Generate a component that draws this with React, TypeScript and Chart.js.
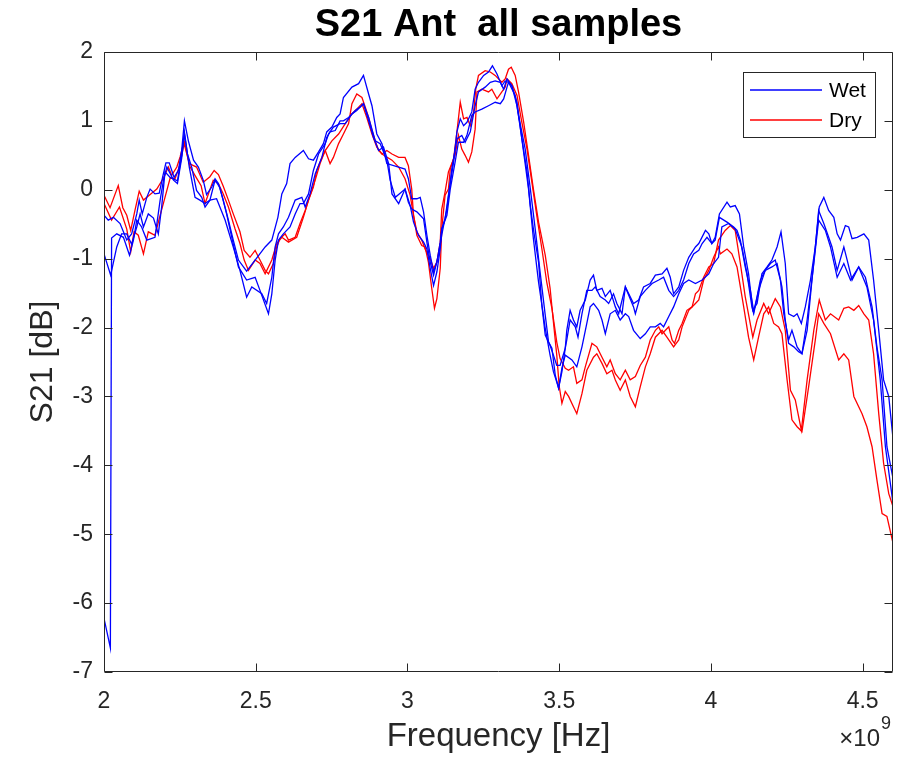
import React, { useEffect, useRef } from "react";
import { Chart, registerables } from "chart.js";

Chart.register(...registerables);

const FONT = '"Liberation Sans", Arial, Helvetica, sans-serif';
const AXIS_COLOR = "#262626";
const WET_COLOR = "#0000ff";
const DRY_COLOR = "#ff0000";

const titleText = "S21 Ant  all samples";
const xTitle = "Frequency [Hz]";
const yTitle = "S21 [dB]";
const xExponentBase = "\u00d710";
const xExponent = "9";
const legendLabels = ["Wet", "Dry"];
const xTickValues = [2, 2.5, 3, 3.5, 4, 4.5];
const yTickValues = [-7, -6, -5, -4, -3, -2, -1, 0, 1, 2];
const xMin = 2;
const xMax = 4.6;
const yMin = -7;
const yMax = 2;

// Each series: [frequency (x1e9 Hz), S21 (dB)]
const wet1: number[][] = [
  [2.000,-6.22],[2.021,-6.65],[2.025,-0.70],[2.042,-0.64],[2.064,-0.69],[2.084,-0.95],[2.097,-0.73],[2.108,-0.44],[2.124,-0.54],[2.141,-0.73],[2.168,-0.69],[2.185,-0.15],[2.196,0.14],[2.207,0.33],[2.229,0.14],[2.242,0.09],[2.256,0.46],[2.265,0.81],[2.275,0.52],[2.289,0.33],[2.305,-0.01],[2.322,-0.11],[2.333,-0.25],[2.349,-0.15],[2.366,0.14],[2.382,0.03],[2.404,-0.35],[2.421,-0.69],[2.443,-1.12],[2.470,-1.31],
  [2.498,-1.27],[2.514,-1.46],[2.542,-1.80],[2.553,-1.51],[2.564,-1.02],[2.575,-0.73],[2.591,-0.64],[2.613,-0.54],[2.630,-0.35],[2.646,-0.20],[2.657,-0.20],[2.674,-0.06],[2.690,0.28],[2.707,0.52],[2.729,0.67],[2.740,0.81],[2.756,0.91],[2.778,0.96],[2.795,0.96],[2.817,1.10],[2.833,1.15],[2.855,1.25],[2.872,1.00],[2.888,0.76],[2.905,0.57],[2.921,0.62],[2.938,0.38],[2.949,-0.06],[2.971,-0.20],
  [2.992,0.01],[3.009,-0.23],[3.020,-0.47],[3.036,-0.66],[3.053,-0.76],[3.064,-0.86],[3.075,-1.14],[3.086,-1.39],[3.097,-1.19],[3.108,-0.86],[3.113,-0.57],[3.130,-0.37],[3.141,0.01],[3.157,0.40],[3.168,0.69],[3.185,0.69],[3.196,0.79],[3.212,1.08],[3.223,1.13],[3.245,1.17],[3.267,1.22],[3.289,1.27],[3.306,1.25],[3.317,1.32],[3.328,1.49],[3.333,1.56],[3.355,1.37],[3.366,1.08],[3.388,0.59],[3.405,0.01],[3.421,-0.57],[3.437,-1.19],[3.454,-1.82],[3.465,-2.21],[3.476,-2.30],[3.487,-2.69],[3.498,-2.88],[3.509,-2.59],[3.520,-2.40],
  [3.542,-2.47],[3.558,-2.57],[3.575,-2.28],[3.591,-1.94],[3.602,-1.70],[3.613,-1.65],[3.630,-1.75],[3.641,-1.89],[3.652,-2.09],[3.668,-1.80],[3.685,-1.75],[3.701,-1.89],[3.718,-1.80],[3.729,-1.84],[3.745,-2.04],[3.767,-2.16],[3.784,-2.09],[3.800,-1.99],[3.817,-1.99],[3.833,-1.94],[3.844,-1.99],[3.861,-1.84],[3.877,-1.70],[3.894,-1.51],[3.910,-1.36],[3.927,-1.31],[3.949,-1.36],[3.971,-1.31],[3.993,-1.22],[4.009,-1.07],[4.025,-0.98],
  [4.036,-0.54],[4.058,-0.49],[4.080,-0.57],[4.102,-0.83],[4.119,-1.22],[4.135,-1.70],[4.141,-1.80],[4.157,-1.46],[4.179,-1.17],[4.201,-1.12],[4.218,-1.07],[4.234,-1.41],[4.245,-1.89],[4.256,-2.23],[4.273,-2.28],[4.289,-2.35],[4.300,-2.38],[4.317,-1.89],[4.339,-1.07],[4.355,-0.44],[4.377,-0.59],[4.394,-0.83],[4.416,-1.27],[4.438,-1.07],[4.460,-1.31],[4.487,-1.12],[4.514,-1.41],[4.536,-1.89],[4.558,-2.76],[4.575,-3.73],[4.597,-4.45],[4.600,-4.57],
];

const wet2: number[][] = [
  [2.000,-0.93],[2.022,-1.24],[2.042,-0.83],[2.058,-0.64],[2.075,-0.64],[2.091,-0.79],[2.108,-0.54],[2.119,-0.35],[2.130,-0.54],[2.146,-0.35],[2.163,-0.41],[2.179,-0.64],[2.190,-0.25],[2.201,0.26],[2.218,0.18],[2.242,0.13],[2.256,0.50],[2.265,0.84],[2.281,0.33],[2.300,-0.11],[2.316,-0.15],[2.333,-0.20],[2.349,-0.15],[2.371,-0.13],[2.399,-0.44],[2.426,-0.83],[2.448,-1.17],[2.470,-1.56],[2.487,-1.41],
  [2.520,-1.51],[2.536,-1.65],[2.553,-1.27],[2.564,-0.83],[2.575,-0.64],[2.591,-0.54],[2.608,-0.40],[2.630,-0.15],[2.652,-0.11],[2.663,-0.25],[2.679,-0.06],[2.696,0.23],[2.718,0.47],[2.734,0.76],[2.745,0.84],[2.762,0.86],[2.778,1.00],[2.789,1.00],[2.806,1.05],[2.828,1.15],[2.844,1.20],[2.855,1.25],[2.872,1.05],[2.894,0.71],[2.910,0.67],[2.932,0.43],[2.943,0.14],[2.960,-0.11],
  [2.992,0.01],[3.003,-0.18],[3.014,-0.28],[3.031,-0.32],[3.042,-0.37],[3.053,-0.42],[3.064,-0.76],[3.075,-1.05],[3.086,-1.24],[3.102,-0.95],[3.113,-0.66],[3.119,-0.52],[3.130,-0.28],[3.146,0.30],[3.163,0.74],[3.179,0.79],[3.190,0.69],[3.207,0.84],[3.223,1.22],[3.234,1.42],[3.256,1.49],[3.273,1.56],[3.289,1.58],[3.306,1.56],[3.317,1.46],[3.328,1.61],[3.344,1.51],[3.361,1.22],[3.377,0.74],[3.399,0.01],[3.415,-0.71],[3.432,-1.34],[3.454,-2.01],[3.470,-2.40],[3.481,-2.64],[3.492,-2.79],[3.498,-2.88],[3.509,-2.64],[3.520,-2.30],
  [3.525,-2.18],[3.536,-1.89],[3.553,-1.99],[3.562,-2.14],[3.575,-1.80],[3.591,-1.46],[3.608,-1.46],[3.619,-1.41],[3.635,-1.55],[3.652,-1.60],[3.663,-1.65],[3.679,-1.51],[3.690,-1.65],[3.707,-1.80],[3.718,-1.41],[3.745,-1.70],[3.751,-1.80],[3.767,-1.55],[3.784,-1.46],[3.806,-1.36],[3.828,-1.31],[3.844,-1.27],[3.861,-1.46],[3.877,-1.55],[3.894,-1.46],[3.910,-1.31],[3.927,-1.07],[3.943,-0.93],[3.960,-0.88],[3.971,-0.78],[3.987,-0.69],[4.003,-0.78],[4.014,-0.73],[4.028,-0.40],
  [4.053,-0.47],[4.075,-0.54],[4.086,-0.59],[4.097,-0.73],[4.113,-1.12],[4.130,-1.46],[4.141,-1.77],[4.152,-1.55],[4.163,-1.31],[4.179,-1.17],[4.196,-1.07],[4.212,-1.02],[4.229,-1.31],[4.240,-1.80],[4.256,-2.18],[4.267,-2.04],[4.284,-2.28],[4.300,-2.38],[4.317,-2.04],[4.333,-1.31],[4.344,-0.83],[4.355,-0.30],[4.372,-0.49],[4.388,-0.69],[4.399,-0.83],[4.416,-1.17],[4.438,-0.83],[4.449,-1.02],[4.465,-1.31],[4.487,-1.12],[4.509,-1.27],[4.531,-1.70],[4.547,-2.28],[4.564,-2.76],[4.580,-3.73],[4.600,-4.19],
];

const wet3: number[][] = [
  [2.000,-0.37],[2.014,-0.44],[2.031,-0.40],[2.053,-0.49],[2.075,-0.73],[2.091,-0.64],[2.108,-0.35],[2.116,-0.15],[2.126,-0.35],[2.141,-0.11],[2.152,0.01],[2.168,-0.06],[2.182,-0.05],[2.193,0.18],[2.204,0.39],[2.215,0.39],[2.231,0.18],[2.245,0.28],[2.256,0.57],[2.265,1.00],[2.278,0.71],[2.295,0.43],[2.311,0.33],[2.327,0.14],[2.338,-0.07],[2.355,0.04],[2.366,0.16],[2.377,0.09],[2.393,-0.15],[2.410,-0.44],[2.426,-0.73],[2.443,-1.02],[2.470,-1.18],
  [2.498,-1.02],[2.531,-0.83],[2.553,-0.73],[2.573,-0.40],[2.586,-0.06],[2.602,0.09],[2.613,0.38],[2.630,0.47],[2.657,0.57],[2.674,0.45],[2.690,0.43],[2.707,0.55],[2.723,0.67],[2.734,0.84],[2.751,0.91],[2.767,1.05],[2.778,1.10],[2.789,1.34],[2.817,1.49],[2.839,1.54],[2.855,1.66],[2.872,1.39],[2.883,1.22],[2.899,0.81],[2.916,0.67],[2.932,0.38],
  [2.992,0.30],[3.003,0.16],[3.014,-0.13],[3.031,-0.13],[3.042,-0.11],[3.053,-0.32],[3.064,-0.66],[3.075,-0.95],[3.086,-1.19],[3.097,-1.05],[3.108,-0.76],[3.113,-0.57],[3.124,-0.42],[3.135,-0.08],[3.152,0.40],[3.163,0.84],[3.174,1.03],[3.185,0.93],[3.196,0.98],[3.212,1.13],[3.223,1.46],[3.234,1.56],[3.251,1.66],[3.267,1.71],[3.280,1.80],[3.295,1.68],[3.311,1.51],[3.322,1.58],[3.333,1.56],[3.344,1.51],[3.361,1.27],[3.377,0.74],[3.394,0.26],[3.405,-0.23],[3.415,-0.57],[3.432,-1.05],[3.443,-1.68],[3.454,-2.11],[3.470,-2.26],[3.481,-2.40],[3.492,-2.55],[3.503,-2.55],[3.520,-2.30],
  [3.525,-2.04],[3.536,-1.75],[3.547,-1.89],[3.558,-1.99],[3.569,-1.75],[3.586,-1.60],[3.602,-1.31],[3.613,-1.24],[3.624,-1.46],[3.641,-1.43],[3.652,-1.55],[3.668,-1.46],[3.685,-1.70],[3.696,-1.80],[3.718,-1.41],[3.745,-1.65],[3.762,-1.60],[3.778,-1.41],[3.800,-1.36],[3.817,-1.24],[3.839,-1.22],[3.855,-1.14],[3.866,-1.27],[3.877,-1.51],[3.894,-1.41],[3.910,-1.17],[3.927,-0.98],[3.949,-0.83],[3.960,-0.78],[3.982,-0.59],[3.993,-0.64],[4.003,-0.78],[4.014,-0.69],[4.028,-0.35],
  [4.053,-0.18],[4.064,-0.25],[4.080,-0.23],[4.094,-0.35],[4.108,-0.83],[4.124,-1.22],[4.138,-1.75],[4.152,-1.65],[4.168,-1.22],[4.185,-1.12],[4.201,-1.02],[4.218,-0.83],[4.231,-0.61],[4.245,-1.07],[4.256,-1.80],[4.273,-1.84],[4.284,-1.80],[4.298,-1.94],[4.311,-1.70],[4.328,-1.31],[4.344,-0.83],[4.357,-0.25],[4.372,-0.11],[4.388,-0.30],[4.405,-0.40],[4.416,-0.64],[4.427,-0.73],[4.443,-0.52],[4.454,-0.54],[4.465,-0.71],[4.482,-0.69],[4.504,-0.64],[4.520,-0.73],[4.536,-1.31],[4.553,-2.04],[4.569,-2.76],[4.586,-3.00],[4.600,-3.61],
];

const dry1: number[][] = [
  [2.000,-0.08],[2.020,-0.26],[2.047,0.06],[2.062,-0.26],[2.075,-0.37],[2.088,-0.59],[2.102,-0.30],[2.116,-0.02],[2.130,-0.15],[2.152,-0.07],[2.174,0.01],[2.196,0.17],[2.212,0.33],[2.223,0.21],[2.240,0.33],[2.251,0.48],[2.264,0.71],[2.281,0.38],[2.305,0.33],[2.327,0.11],[2.349,0.19],[2.363,0.28],[2.377,0.22],[2.393,0.05],[2.410,-0.15],[2.426,-0.35],[2.448,-0.61],[2.462,-0.88],[2.481,-0.98],
  [2.498,-0.88],[2.514,-1.02],[2.531,-1.17],[2.542,-1.22],[2.558,-1.07],[2.569,-0.83],[2.580,-0.71],[2.597,-0.64],[2.608,-0.73],[2.630,-0.69],[2.646,-0.49],[2.663,-0.30],[2.674,-0.15],[2.690,0.04],[2.701,0.28],[2.718,0.47],[2.729,0.57],[2.745,0.38],[2.756,0.47],[2.773,0.67],[2.789,0.81],[2.806,0.96],[2.817,1.25],[2.833,1.39],[2.850,1.34],[2.861,1.20],[2.872,1.05],[2.883,0.86],[2.894,0.71],[2.905,0.57],[2.916,0.52],[2.932,0.57],[2.949,0.52],[2.971,0.47],
  [2.992,0.47],[3.003,0.35],[3.014,0.01],[3.020,-0.37],[3.031,-0.66],[3.047,-0.81],[3.058,-0.83],[3.069,-1.05],[3.080,-1.43],[3.089,-1.72],[3.097,-1.58],[3.108,-1.14],[3.113,-0.57],[3.124,-0.08],[3.135,0.01],[3.141,0.30],[3.152,0.45],[3.163,0.84],[3.174,1.27],[3.185,1.03],[3.196,1.05],[3.207,0.93],[3.218,1.13],[3.225,1.46],[3.234,1.66],[3.256,1.73],[3.273,1.71],[3.289,1.66],[3.311,1.56],[3.322,1.61],[3.333,1.75],[3.342,1.78],[3.355,1.66],[3.366,1.42],[3.383,0.98],[3.399,0.50],[3.415,0.01],[3.432,-0.47],[3.454,-0.95],[3.470,-1.43],[3.481,-1.92],[3.492,-2.40],[3.500,-2.85],[3.509,-3.10],[3.520,-2.93],
  [3.531,-3.00],[3.547,-3.15],[3.558,-3.25],[3.575,-2.96],[3.591,-2.62],[3.613,-2.43],[3.624,-2.38],[3.641,-2.52],[3.657,-2.67],[3.674,-2.62],[3.685,-2.76],[3.701,-2.91],[3.718,-2.76],[3.734,-3.00],[3.751,-3.15],[3.767,-2.86],[3.784,-2.57],[3.800,-2.38],[3.817,-2.14],[3.839,-2.04],[3.855,-2.14],[3.877,-2.28],[3.894,-2.18],[3.905,-1.99],[3.927,-1.75],[3.949,-1.65],[3.960,-1.60],[3.976,-1.31],[3.993,-1.17],[4.009,-0.98],[4.025,-0.83],
  [4.031,-0.93],[4.053,-0.86],[4.069,-0.93],[4.086,-1.12],[4.108,-1.70],[4.124,-2.14],[4.141,-2.47],[4.157,-2.14],[4.174,-1.80],[4.190,-1.70],[4.207,-1.94],[4.223,-1.99],[4.234,-2.09],[4.251,-2.76],[4.267,-3.34],[4.284,-3.44],[4.300,-3.51],[4.322,-2.86],[4.344,-2.18],[4.355,-1.80],[4.372,-1.94],[4.394,-2.09],[4.421,-2.47],[4.438,-2.38],[4.454,-2.47],[4.471,-3.00],[4.487,-3.15],[4.498,-3.25],[4.514,-3.44],[4.531,-3.73],[4.547,-4.21],[4.564,-4.70],[4.580,-4.74],[4.600,-5.13],
];

const dry2: number[][] = [
  [2.000,-0.20],[2.025,-0.44],[2.051,-0.25],[2.075,-0.57],[2.088,-0.90],[2.099,-0.61],[2.113,-0.66],[2.130,-0.93],[2.146,-0.61],[2.168,-0.66],[2.185,-0.37],[2.201,-0.11],[2.218,0.17],[2.234,0.16],[2.248,0.33],[2.264,0.67],[2.284,0.33],[2.305,0.17],[2.320,0.06],[2.333,-0.20],[2.360,0.14],[2.377,0.09],[2.393,-0.06],[2.410,-0.25],[2.432,-0.57],[2.448,-0.78],[2.462,-1.02],[2.476,-1.17],
  [2.498,-1.02],[2.514,-1.07],[2.531,-1.22],[2.553,-1.02],[2.569,-0.78],[2.586,-0.69],[2.608,-0.76],[2.635,-0.69],[2.657,-0.40],[2.674,-0.15],[2.696,0.14],[2.712,0.38],[2.729,0.57],[2.751,0.71],[2.773,0.81],[2.795,0.96],[2.817,1.10],[2.839,1.20],[2.850,1.25],[2.866,1.05],[2.883,0.81],[2.899,0.62],[2.916,0.52],[2.949,0.43],[2.971,0.33],
  [2.992,0.16],[3.009,-0.08],[3.020,-0.37],[3.031,-0.61],[3.047,-0.73],[3.058,-0.86],[3.075,-1.00],[3.086,-1.14],[3.097,-1.05],[3.108,-0.76],[3.113,-0.28],[3.124,-0.03],[3.135,0.26],[3.157,0.50],[3.168,0.79],[3.179,0.59],[3.190,0.50],[3.201,0.40],[3.212,0.55],[3.223,0.88],[3.229,1.42],[3.245,1.46],[3.267,1.42],[3.278,1.46],[3.295,1.32],[3.311,1.42],[3.322,1.49],[3.328,1.61],[3.344,1.54],[3.361,1.37],[3.377,0.98],[3.394,0.59],[3.410,0.11],[3.426,-0.37],[3.443,-0.86],[3.459,-1.34],[3.476,-1.72],[3.492,-2.21],[3.503,-2.45],[3.520,-2.59],
  [3.531,-2.62],[3.547,-2.57],[3.558,-2.81],[3.575,-2.76],[3.586,-2.57],[3.608,-2.23],[3.624,-2.28],[3.641,-2.43],[3.657,-2.57],[3.668,-2.47],[3.685,-2.67],[3.701,-2.76],[3.718,-2.62],[3.734,-2.76],[3.751,-2.71],[3.767,-2.55],[3.784,-2.43],[3.800,-2.18],[3.817,-2.04],[3.828,-1.99],[3.839,-2.09],[3.861,-1.99],[3.872,-2.18],[3.880,-2.23],[3.894,-2.04],[3.905,-1.94],[3.921,-1.75],[3.938,-1.70],[3.949,-1.51],[3.960,-1.46],[3.976,-1.27],[3.993,-1.12],[4.009,-1.07],[4.025,-0.73],
  [4.047,-0.59],[4.064,-0.52],[4.080,-0.59],[4.097,-1.07],[4.113,-1.55],[4.138,-2.14],[4.152,-1.89],[4.174,-1.65],[4.190,-1.80],[4.212,-1.58],[4.229,-1.70],[4.245,-2.04],[4.262,-2.91],[4.278,-3.05],[4.298,-3.49],[4.317,-2.76],[4.339,-2.04],[4.357,-1.60],[4.377,-1.89],[4.394,-1.80],[4.421,-1.89],[4.438,-1.72],[4.454,-1.70],[4.471,-1.75],[4.487,-1.68],[4.504,-1.80],[4.520,-1.89],[4.536,-2.38],[4.553,-3.25],[4.569,-3.97],[4.586,-4.41],[4.600,-4.60],
];

const wetSeries = [wet1, wet2, wet3];
const drySeries = [dry1, dry2];

export default function App() {
  const ref = useRef<HTMLCanvasElement | null>(null);

  useEffect(() => {
    const canvas = ref.current;
    if (!canvas) return;
    const toPoints = (s: number[][]) => s.map(([x, y]) => ({ x, y }));
    const lineStyle = { pointRadius: 0, borderWidth: 1.3, tension: 0, fill: false, clip: 0 };
    const datasets = [
      ...wetSeries.map((s, i) => ({ label: `Wet ${i + 1}`, data: toPoints(s), borderColor: WET_COLOR, ...lineStyle })),
      ...drySeries.map((s, i) => ({ label: `Dry ${i + 1}`, data: toPoints(s), borderColor: DRY_COLOR, ...lineStyle })),
    ];

    const framePlugin = {
      id: "matlabFrame",
      afterDatasetsDraw(chart: any) {
        const { ctx, chartArea: a, scales } = chart;
        const xs = scales.x;
        const ys = scales.y;
        ctx.save();
        ctx.strokeStyle = AXIS_COLOR;
        ctx.lineWidth = 1;
        const L = Math.round(a.left) + 0.5;
        const R = Math.round(a.right) - 0.5;
        const T = Math.round(a.top) + 0.5;
        const B = Math.round(a.bottom) - 0.5;
        ctx.beginPath();
        ctx.rect(L, T, R - L, B - T);
        const tick = 8;
        xTickValues.forEach((v) => {
          const px = Math.round(xs.getPixelForValue(v)) + 0.5;
          ctx.moveTo(px, B);
          ctx.lineTo(px, B - tick);
          ctx.moveTo(px, T);
          ctx.lineTo(px, T + tick);
        });
        yTickValues.forEach((v) => {
          const py = Math.round(ys.getPixelForValue(v)) + 0.5;
          ctx.moveTo(L, py);
          ctx.lineTo(L + tick, py);
          ctx.moveTo(R, py);
          ctx.lineTo(R - tick, py);
        });
        ctx.stroke();
        ctx.restore();
      },
      afterDraw(chart: any) {
        const { ctx, chartArea: a } = chart;
        ctx.save();
        // Title
        ctx.fillStyle = "#000";
        ctx.font = `bold 38px ${FONT}`;
        ctx.textAlign = "center";
        ctx.textBaseline = "middle";
        ctx.fillText(titleText, (a.left + a.right) / 2, 26);

        // Exponent label
        ctx.fillStyle = AXIS_COLOR;
        ctx.font = `24px ${FONT}`;
        ctx.textAlign = "right";
        ctx.textBaseline = "alphabetic";
        ctx.fillText(xExponentBase, a.right - 13, 746);
        ctx.font = `18px ${FONT}`;
        ctx.textAlign = "left";
        ctx.fillText(xExponent, a.right - 12, 729);

        // Legend
        const bx = 743.5, by = 72.5, bw = 132, bh = 65;
        ctx.fillStyle = "#fff";
        ctx.fillRect(bx, by, bw, bh);
        ctx.strokeStyle = AXIS_COLOR;
        ctx.lineWidth = 1;
        ctx.strokeRect(bx, by, bw, bh);
        const colors = [WET_COLOR, DRY_COLOR];
        const rowsY = [90, 120];
        legendLabels.forEach((lab, i) => {
          ctx.strokeStyle = colors[i];
          ctx.lineWidth = 1.3;
          ctx.beginPath();
          ctx.moveTo(750, rowsY[i]);
          ctx.lineTo(822, rowsY[i]);
          ctx.stroke();
          ctx.fillStyle = "#000";
          ctx.font = `21px ${FONT}`;
          ctx.textAlign = "left";
          ctx.textBaseline = "middle";
          ctx.fillText(lab, 829, rowsY[i] + 1);
        });
        ctx.restore();
      },
    };

    const chart = new Chart(canvas, {
      type: "line",
      data: { datasets: datasets as any },
      options: {
        animation: false,
        responsive: false,
        devicePixelRatio: 1,
        parsing: false as any,
        normalized: true,
        events: [],
        layout: { padding: { left: 0, right: 24, top: 52, bottom: 0 } },
        plugins: {
          legend: { display: false },
          tooltip: { enabled: false },
          title: { display: false },
        },
        scales: {
          x: {
            type: "linear",
            min: xMin,
            max: xMax,
            grid: { display: false, drawTicks: false },
            border: { display: false },
            afterBuildTicks: (s: any) => {
              s.ticks = xTickValues.map((v) => ({ value: v }));
            },
            afterFit: (s: any) => {
              s.height = 87;
            },
            ticks: {
              color: AXIS_COLOR,
              padding: 16,
              maxRotation: 0,
              autoSkip: false,
              font: { family: FONT, size: 23 },
              callback: (v: any) => String(v),
            },
            title: {
              display: true,
              text: xTitle,
              color: AXIS_COLOR,
              font: { family: FONT, size: 33 },
              padding: { top: 0, bottom: 2 },
            },
          },
          y: {
            type: "linear",
            min: yMin,
            max: yMax,
            grid: { display: false, drawTicks: false },
            border: { display: false },
            afterBuildTicks: (s: any) => {
              s.ticks = yTickValues.map((v) => ({ value: v }));
            },
            afterFit: (s: any) => {
              s.width = 104;
            },
            ticks: {
              color: AXIS_COLOR,
              padding: 11,
              autoSkip: false,
              font: { family: FONT, size: 23 },
              callback: (v: any) => String(v),
            },
            title: {
              display: true,
              text: yTitle,
              color: AXIS_COLOR,
              font: { family: FONT, size: 32 },
              padding: { top: 24, bottom: 0 },
            },
          },
        },
      } as any,
      plugins: [framePlugin],
    });
    return () => chart.destroy();
  }, []);

  return (
    <div style={{ position: "fixed", left: 0, top: 0, width: 917, height: 759, background: "#fff" }}>
      <canvas ref={ref} width={917} height={759} style={{ display: "block" }} />
    </div>
  );
}
